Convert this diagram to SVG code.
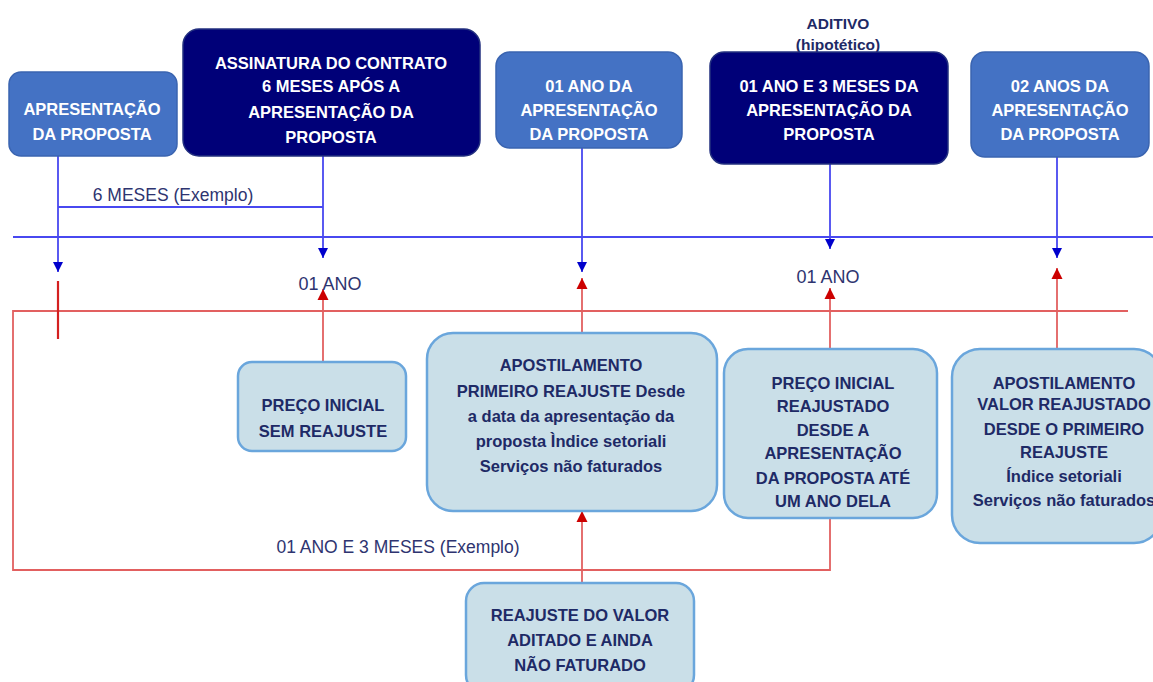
<svg xmlns="http://www.w3.org/2000/svg" width="1153" height="682" viewBox="0 0 1153 682">
<style>
.top{fill:#4472C4;stroke:#3A64B0;stroke-width:1.5}
.dark{fill:#000078;stroke:#23307F;stroke-width:1.5}
.bot{fill:#CADFE8;stroke:#6AA6DC;stroke-width:2.5}
.tw{font-family:"Liberation Sans",Arial,sans-serif;font-weight:bold;font-size:16.5px;fill:#FFFFFF;text-anchor:middle}
.tb{font-family:"Liberation Sans",Arial,sans-serif;font-weight:bold;font-size:16.5px;fill:#1E2A66;text-anchor:middle}
.lbl{font-family:"Liberation Sans",Arial,sans-serif;font-size:17.5px;fill:#2E3470;text-anchor:middle}
.bl{stroke:#4848F0;stroke-width:1.8;fill:none}
.rl{stroke:#E26060;stroke-width:1.8;fill:none}
</style>
<defs>
<marker id="bh" viewBox="0 0 10 10" refX="10" refY="5" markerWidth="10" markerHeight="13" markerUnits="userSpaceOnUse" orient="auto"><path d="M0,0 L10,5 L0,10 z" fill="#0000CC"/></marker>
<marker id="rh" viewBox="0 0 10 10" refX="10" refY="5" markerWidth="11" markerHeight="13" markerUnits="userSpaceOnUse" orient="auto"><path d="M0,0 L10,5 L0,10 z" fill="#CC0000"/></marker>
</defs>
<rect width="1153" height="682" fill="#FFFFFF"/>

<g id="connectors">
<line class="bl" x1="13" y1="237" x2="1153" y2="237"/>
<line class="bl" x1="58" y1="156" x2="58" y2="272" marker-end="url(#bh)"/>
<line class="bl" x1="323" y1="156" x2="323" y2="258" marker-end="url(#bh)"/>
<line class="bl" x1="58" y1="207" x2="323" y2="207"/>
<line class="bl" x1="582" y1="148" x2="582" y2="272" marker-end="url(#bh)"/>
<line class="bl" x1="830" y1="164" x2="830" y2="249" marker-end="url(#bh)"/>
<line class="bl" x1="1057" y1="157" x2="1057" y2="258" marker-end="url(#bh)"/>
<polyline class="rl" points="1128,311 13,311 13,570 830,570 830,518"/>
<line x1="58" y1="281" x2="58" y2="339" stroke="#D42020" stroke-width="2.2"/>
<line class="rl" x1="323" y1="362" x2="323" y2="289" marker-end="url(#rh)"/>
<line class="rl" x1="582" y1="333" x2="582" y2="278" marker-end="url(#rh)"/>
<line class="rl" x1="830" y1="349" x2="830" y2="288" marker-end="url(#rh)"/>
<line class="rl" x1="1057" y1="348" x2="1057" y2="268" marker-end="url(#rh)"/>
<line class="rl" x1="582" y1="583" x2="582" y2="511" marker-end="url(#rh)"/>
<text class="lbl" x="173" y="201">6 MESES (Exemplo)</text>
<text class="lbl" x="330" y="290" style="font-size:18px">01 ANO</text>
<text class="lbl" x="828" y="283" style="font-size:18px">01 ANO</text>
<text class="lbl" x="398" y="553">01 ANO E 3 MESES (Exemplo)</text>
</g>

<g id="n1">
<rect class="top" x="9" y="72" width="168" height="84" rx="12"/>
<text class="tw" x="92" y="115">APRESENTAÇÃO</text>
<text class="tw" x="92" y="140">DA PROPOSTA</text>
</g>
<g id="n2">
<rect class="dark" x="183" y="29" width="297" height="127" rx="16"/>
<text class="tw" x="331" y="69">ASSINATURA DO CONTRATO</text>
<text class="tw" x="331" y="92">6 MESES APÓS A</text>
<text class="tw" x="331" y="118">APRESENTAÇÃO DA</text>
<text class="tw" x="331" y="143">PROPOSTA</text>
</g>
<g id="n3">
<rect class="top" x="496" y="52" width="186" height="96" rx="14"/>
<text class="tw" x="589" y="92">01 ANO DA</text>
<text class="tw" x="589" y="116">APRESENTAÇÃO</text>
<text class="tw" x="589" y="140">DA PROPOSTA</text>
</g>
<g id="n4">
<text class="tb" x="838" y="29" style="font-size:15.5px">ADITIVO</text>
<text class="tb" x="838" y="50" style="font-size:15.5px">(hipotético)</text>
<rect class="dark" x="710" y="52" width="238" height="112" rx="14"/>
<text class="tw" x="829" y="92">01 ANO E 3 MESES DA</text>
<text class="tw" x="829" y="116">APRESENTAÇÃO DA</text>
<text class="tw" x="829" y="140">PROPOSTA</text>
</g>
<g id="n5">
<rect class="top" x="971" y="52" width="178" height="105" rx="14"/>
<text class="tw" x="1060" y="92">02 ANOS DA</text>
<text class="tw" x="1060" y="116">APRESENTAÇÃO</text>
<text class="tw" x="1060" y="140">DA PROPOSTA</text>
</g>

<g id="b1">
<rect class="bot" x="238" y="362" width="168" height="89" rx="14"/>
<text class="tb" x="323" y="411">PREÇO INICIAL</text>
<text class="tb" x="323" y="437">SEM REAJUSTE</text>
</g>
<g id="b2">
<rect class="bot" x="427" y="333" width="290" height="178" rx="26"/>
<text class="tb" x="571" y="371">APOSTILAMENTO</text>
<text class="tb" x="571" y="397">PRIMEIRO REAJUSTE Desde</text>
<text class="tb" x="571" y="422">a data da apresentação da</text>
<text class="tb" x="571" y="447">proposta Ìndice setoriali</text>
<text class="tb" x="571" y="472">Serviços não faturados</text>
</g>
<g id="b3">
<rect class="bot" x="724" y="349" width="213" height="169" rx="24"/>
<text class="tb" x="833" y="389">PREÇO INICIAL</text>
<text class="tb" x="833" y="412">REAJUSTADO</text>
<text class="tb" x="833" y="436">DESDE A</text>
<text class="tb" x="833" y="459">APRESENTAÇÃO</text>
<text class="tb" x="833" y="484">DA PROPOSTA ATÉ</text>
<text class="tb" x="833" y="507">UM ANO DELA</text>
</g>
<g id="b4">
<rect class="bot" x="952" y="349" width="210" height="194" rx="28"/>
<text class="tb" x="1064" y="389">APOSTILAMENTO</text>
<text class="tb" x="1064" y="410">VALOR REAJUSTADO</text>
<text class="tb" x="1064" y="435">DESDE O PRIMEIRO</text>
<text class="tb" x="1064" y="458">REAJUSTE</text>
<text class="tb" x="1064" y="482">Índice setoriali</text>
<text class="tb" x="1064" y="506">Serviços não faturados</text>
</g>
<g id="b5">
<rect class="bot" x="466" y="583" width="228" height="110" rx="18"/>
<text class="tb" x="580" y="621">REAJUSTE DO VALOR</text>
<text class="tb" x="580" y="646">ADITADO E AINDA</text>
<text class="tb" x="580" y="671">NÃO FATURADO</text>
</g>
</svg>
